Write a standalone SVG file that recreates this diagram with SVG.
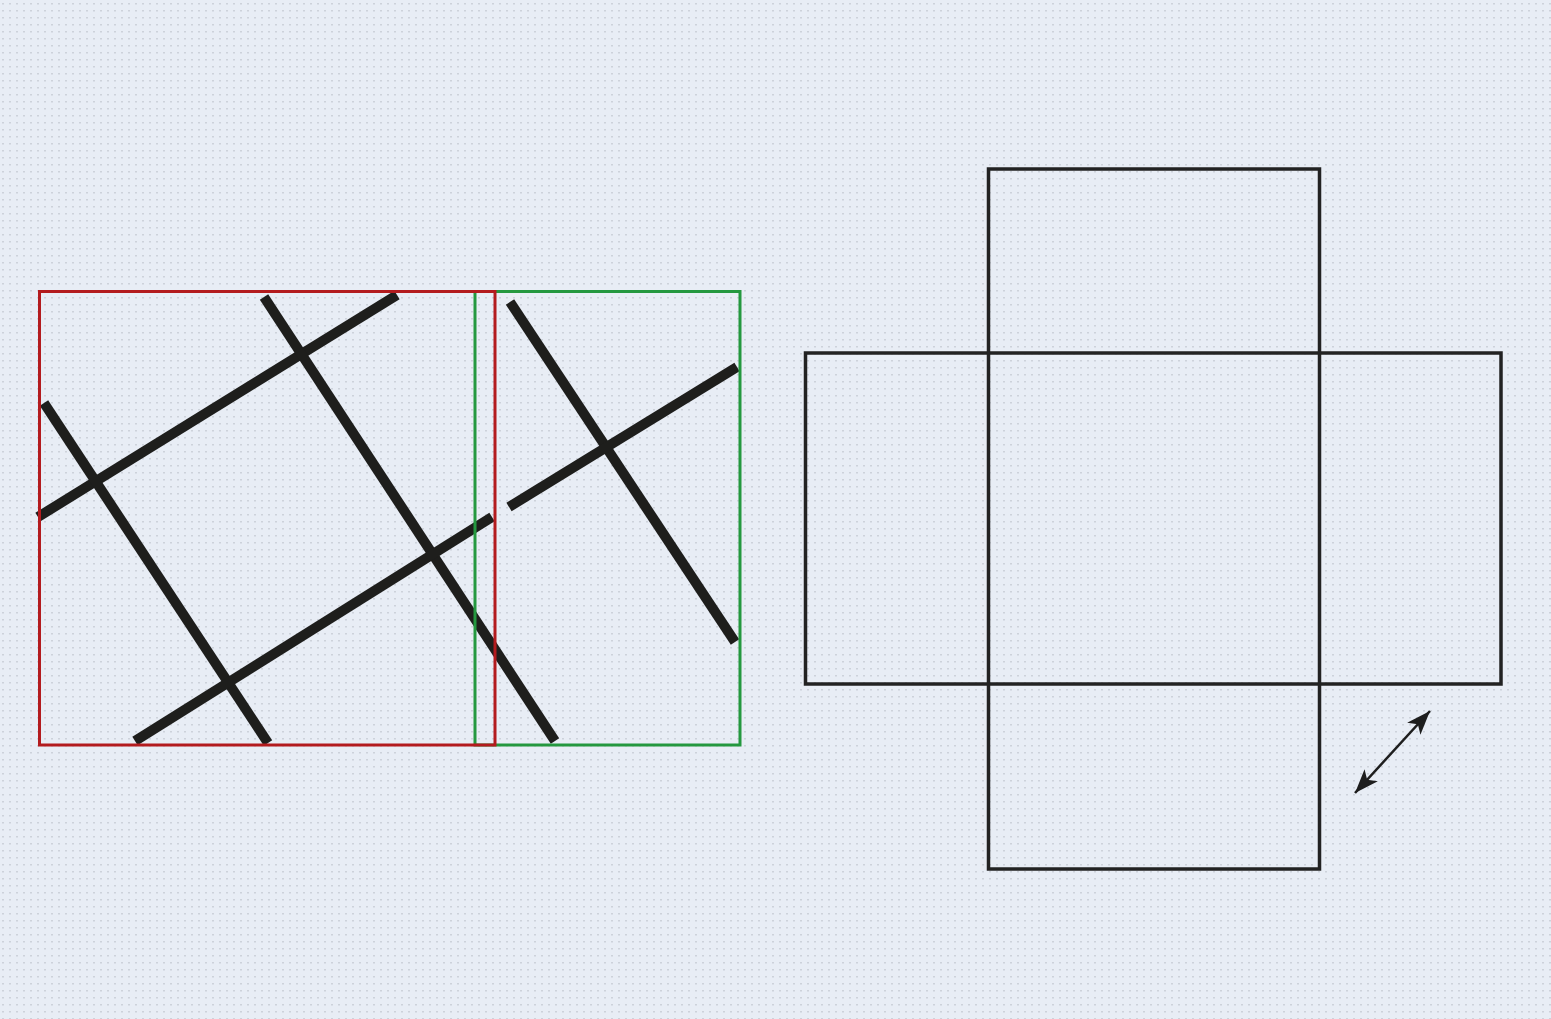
<svg xmlns="http://www.w3.org/2000/svg" width="1551" height="1019" viewBox="0 0 1551 1019">
<defs>
<pattern id="tex" width="7" height="7" patternUnits="userSpaceOnUse">
<rect x="2" y="3" width="2" height="1.5" fill="#9aa0a8" opacity="0.35"/>
</pattern>
<marker id="ah" markerWidth="24" markerHeight="18" refX="24" refY="9" orient="auto-start-reverse" markerUnits="userSpaceOnUse" viewBox="0 0 24 18">
<path d="M0,0 L24,9 L0,18 L6,9 z" fill="#1e1e1e"/>
</marker>
<style>
.stick{stroke:#1e1e1c;stroke-width:10;stroke-linecap:butt;fill:none}
.red{stroke:#b31b1e;stroke-width:3;fill:none}
.green{stroke:#24983f;stroke-width:3;fill:none}
.net{stroke:#222222;stroke-width:3.5;fill:none}
</style>
</defs>
<rect width="1551" height="1019" fill="#e8edf5"/>
<rect width="1551" height="1019" fill="url(#tex)"/>
<g id="sticks">
<line class="stick" x1="38" y1="517" x2="397" y2="295"/>
<line class="stick" x1="264" y1="297" x2="555" y2="741"/>
<line class="stick" x1="44" y1="403" x2="268" y2="743"/>
<line class="stick" x1="135" y1="741" x2="492" y2="517"/>
<line class="stick" x1="510" y1="302" x2="735" y2="642"/>
<line class="stick" x1="509" y1="507" x2="737" y2="367"/>
</g>
<g id="frames">
<rect class="green" x="475" y="291.5" width="265" height="453.5"/>
<rect class="red" x="39.5" y="291.5" width="455.5" height="453.5"/>
</g>
<g id="net">
<rect class="net" x="805.5" y="353" width="695.5" height="331"/>
<rect class="net" x="988.5" y="169" width="331" height="700"/>
</g>
<g id="arrow">
<line x1="1355" y1="793" x2="1430" y2="711" stroke="#1e1e1e" stroke-width="2.5" marker-start="url(#ah)" marker-end="url(#ah)"/>
</g>
</svg>
